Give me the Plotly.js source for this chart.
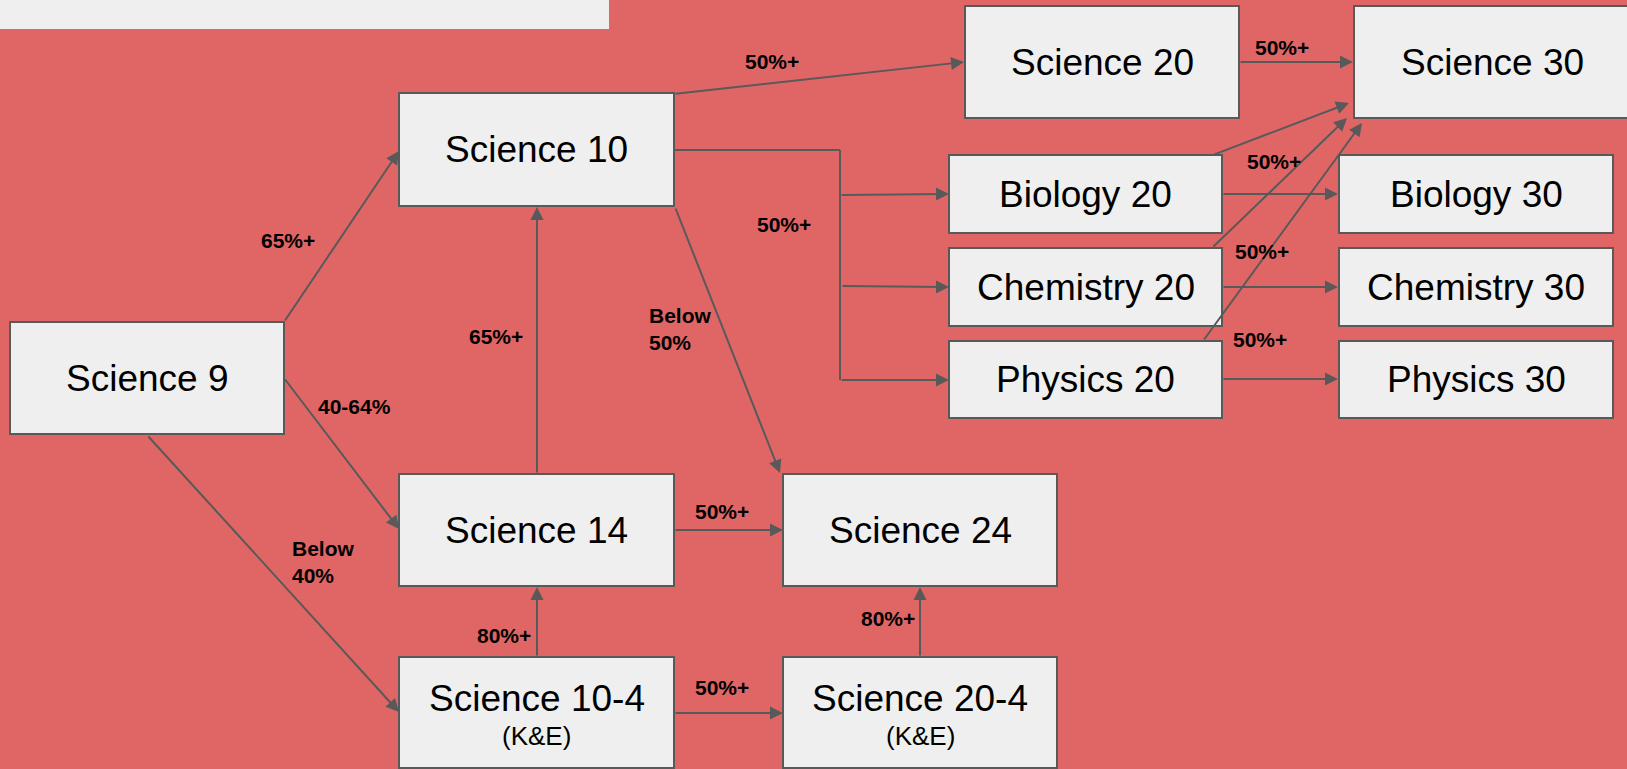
<!DOCTYPE html>
<html>
<head>
<meta charset="utf-8">
<script src="https://cdn.plot.ly/plotly-3.0.1.min.js"></script>
<style>html,body{margin:0;padding:0;background:#e06666;overflow:hidden;}#chart{width:1627px;height:769px;}</style>
</head>
<body>
<div id="chart"></div>
<script>
// ---- Course names (node labels) ----
const nodeLabels = ['Science 9','Science 10','Science 14','Science 10-4','Science 24','Science 20-4',
  'Science 20','Science 30','Biology 20','Chemistry 20','Physics 20','Biology 30','Chemistry 30','Physics 30'];
const nodeSubLabels = ['','','','(K&E)','','(K&E)','','','','','','','',''];

// ---- Edge labels (grade requirements) ----
const edgeLabels = ['65%+','40-64%','Below<br>40%','65%+','80%+','50%+','50%+','80%+','Below<br>50%',
  '50%+','50%+','50%+','50%+','50%+','50%+'];

// ---- Layout geometry (pixels) ----
const boxX0 = [10, 399, 399, 399, 783, 783, 965, 1354, 949, 949, 949, 1339, 1339, 1339];
const boxX1 = [284, 674, 674, 674, 1057, 1057, 1239, 1630, 1222, 1222, 1222, 1613, 1613, 1613];
const boxY0 = [322, 93, 474, 657, 474, 657, 6, 6, 155, 248, 341, 155, 248, 341];
const boxY1 = [434, 206, 586, 768, 586, 768, 118, 118, 233, 326, 418, 233, 326, 418];

const labelX = [288, 354, 290, 496, 504, 722, 722, 888, 647, 772, 1282, 784, 1274, 1262, 1260];
const labelY = [240, 406, 562, 336, 635, 511, 687, 618, 329, 61, 47, 224, 161, 251, 339];
const labelLeft = [false, false, true, false, false, false, false, false, true, false, false, false, false, false, false];

// arrows: [tailX, tailY] -> [headX, headY]
const arrowTail = [[284,322],[284,378],[147,435],[537,474],[537,657],[674,530],[674,713],[920,657],[675,207],
  [674,94],[1239,62],[840,195],[841,286],[840,380],[1222,194],[1222,287],[1222,379],[1213,155],[1212,248],[1203,341]];
const arrowHead = [[399,151],[399,529],[399,712],[537,207],[537,587],[783,530],[783,713],[920,587],[780,473],
  [964,62],[1353,62],[949,194],[949,287],[949,380],[1338,194],[1338,287],[1338,379],[1349,103],[1347,118],[1362,123]];
// plain connector lines
const lineSegs = [[674,150,840,150],[840,150,840,380]];

const lineColor = '#595959';
const shapes = [];
const annotations = [];

shapes.push({type:'rect', xref:'x', yref:'y', x0:0, x1:609, y0:0, y1:29, fillcolor:'#efefef', line:{width:0}, layer:'below'});

lineSegs.forEach(s => shapes.push({type:'line', xref:'x', yref:'y', x0:s[0], y0:s[1], x1:s[2], y1:s[3],
  line:{color:lineColor, width:2}}));

for (let i = 0; i < nodeLabels.length; i++) {
  shapes.push({type:'rect', xref:'x', yref:'y', x0:boxX0[i], x1:boxX1[i], y0:boxY0[i], y1:boxY1[i],
    fillcolor:'#efefef', line:{color:lineColor, width:2}});
  const cx = (boxX0[i] + boxX1[i]) / 2;
  const cy = (boxY0[i] + boxY1[i]) / 2;
  if (nodeSubLabels[i]) {
    annotations.push({xref:'x', yref:'y', x:cx, y:cy - 14, text:nodeLabels[i], showarrow:false,
      xanchor:'center', yanchor:'middle', font:{family:'Liberation Sans, Arial, sans-serif', size:37, color:'#000'}});
    annotations.push({xref:'x', yref:'y', x:cx, y:cy + 23, text:nodeSubLabels[i], showarrow:false,
      xanchor:'center', yanchor:'middle', font:{family:'Liberation Sans, Arial, sans-serif', size:26, color:'#000'}});
  } else {
    annotations.push({xref:'x', yref:'y', x:cx, y:cy, text:nodeLabels[i], showarrow:false,
      xanchor:'center', yanchor:'middle', font:{family:'Liberation Sans, Arial, sans-serif', size:37, color:'#000'}});
  }
}

for (let i = 0; i < arrowTail.length; i++) {
  annotations.push({xref:'x', yref:'y', axref:'x', ayref:'y', x:arrowHead[i][0], y:arrowHead[i][1],
    ax:arrowTail[i][0], ay:arrowTail[i][1], text:'', showarrow:true, arrowhead:2, arrowsize:1.3,
    arrowwidth:2, arrowcolor:lineColor, standoff:0, startstandoff:0});
}

for (let i = 0; i < edgeLabels.length; i++) {
  annotations.push({xref:'x', yref:'y', x:labelX[i], y:labelY[i], text:'<b>' + edgeLabels[i] + '</b>',
    showarrow:false, xanchor: labelLeft[i] ? 'left' : 'center', yanchor:'middle', align: labelLeft[i] ? 'left' : 'center',
    font:{family:'Liberation Sans, Arial, sans-serif', size:21, color:'#000'}});
}

const layout = {
  width:1627, height:769,
  margin:{l:0, r:0, t:0, b:0, pad:0},
  paper_bgcolor:'#e06666', plot_bgcolor:'#e06666',
  showlegend:false,
  xaxis:{range:[0,1627], visible:false, fixedrange:true},
  yaxis:{range:[769,0], visible:false, fixedrange:true},
  shapes:shapes,
  annotations:annotations
};

Plotly.newPlot('chart', [{x:[], y:[], type:'scatter', mode:'markers', hoverinfo:'skip'}], layout,
  {displayModeBar:false, staticPlot:true});
</script>
</body>
</html>
